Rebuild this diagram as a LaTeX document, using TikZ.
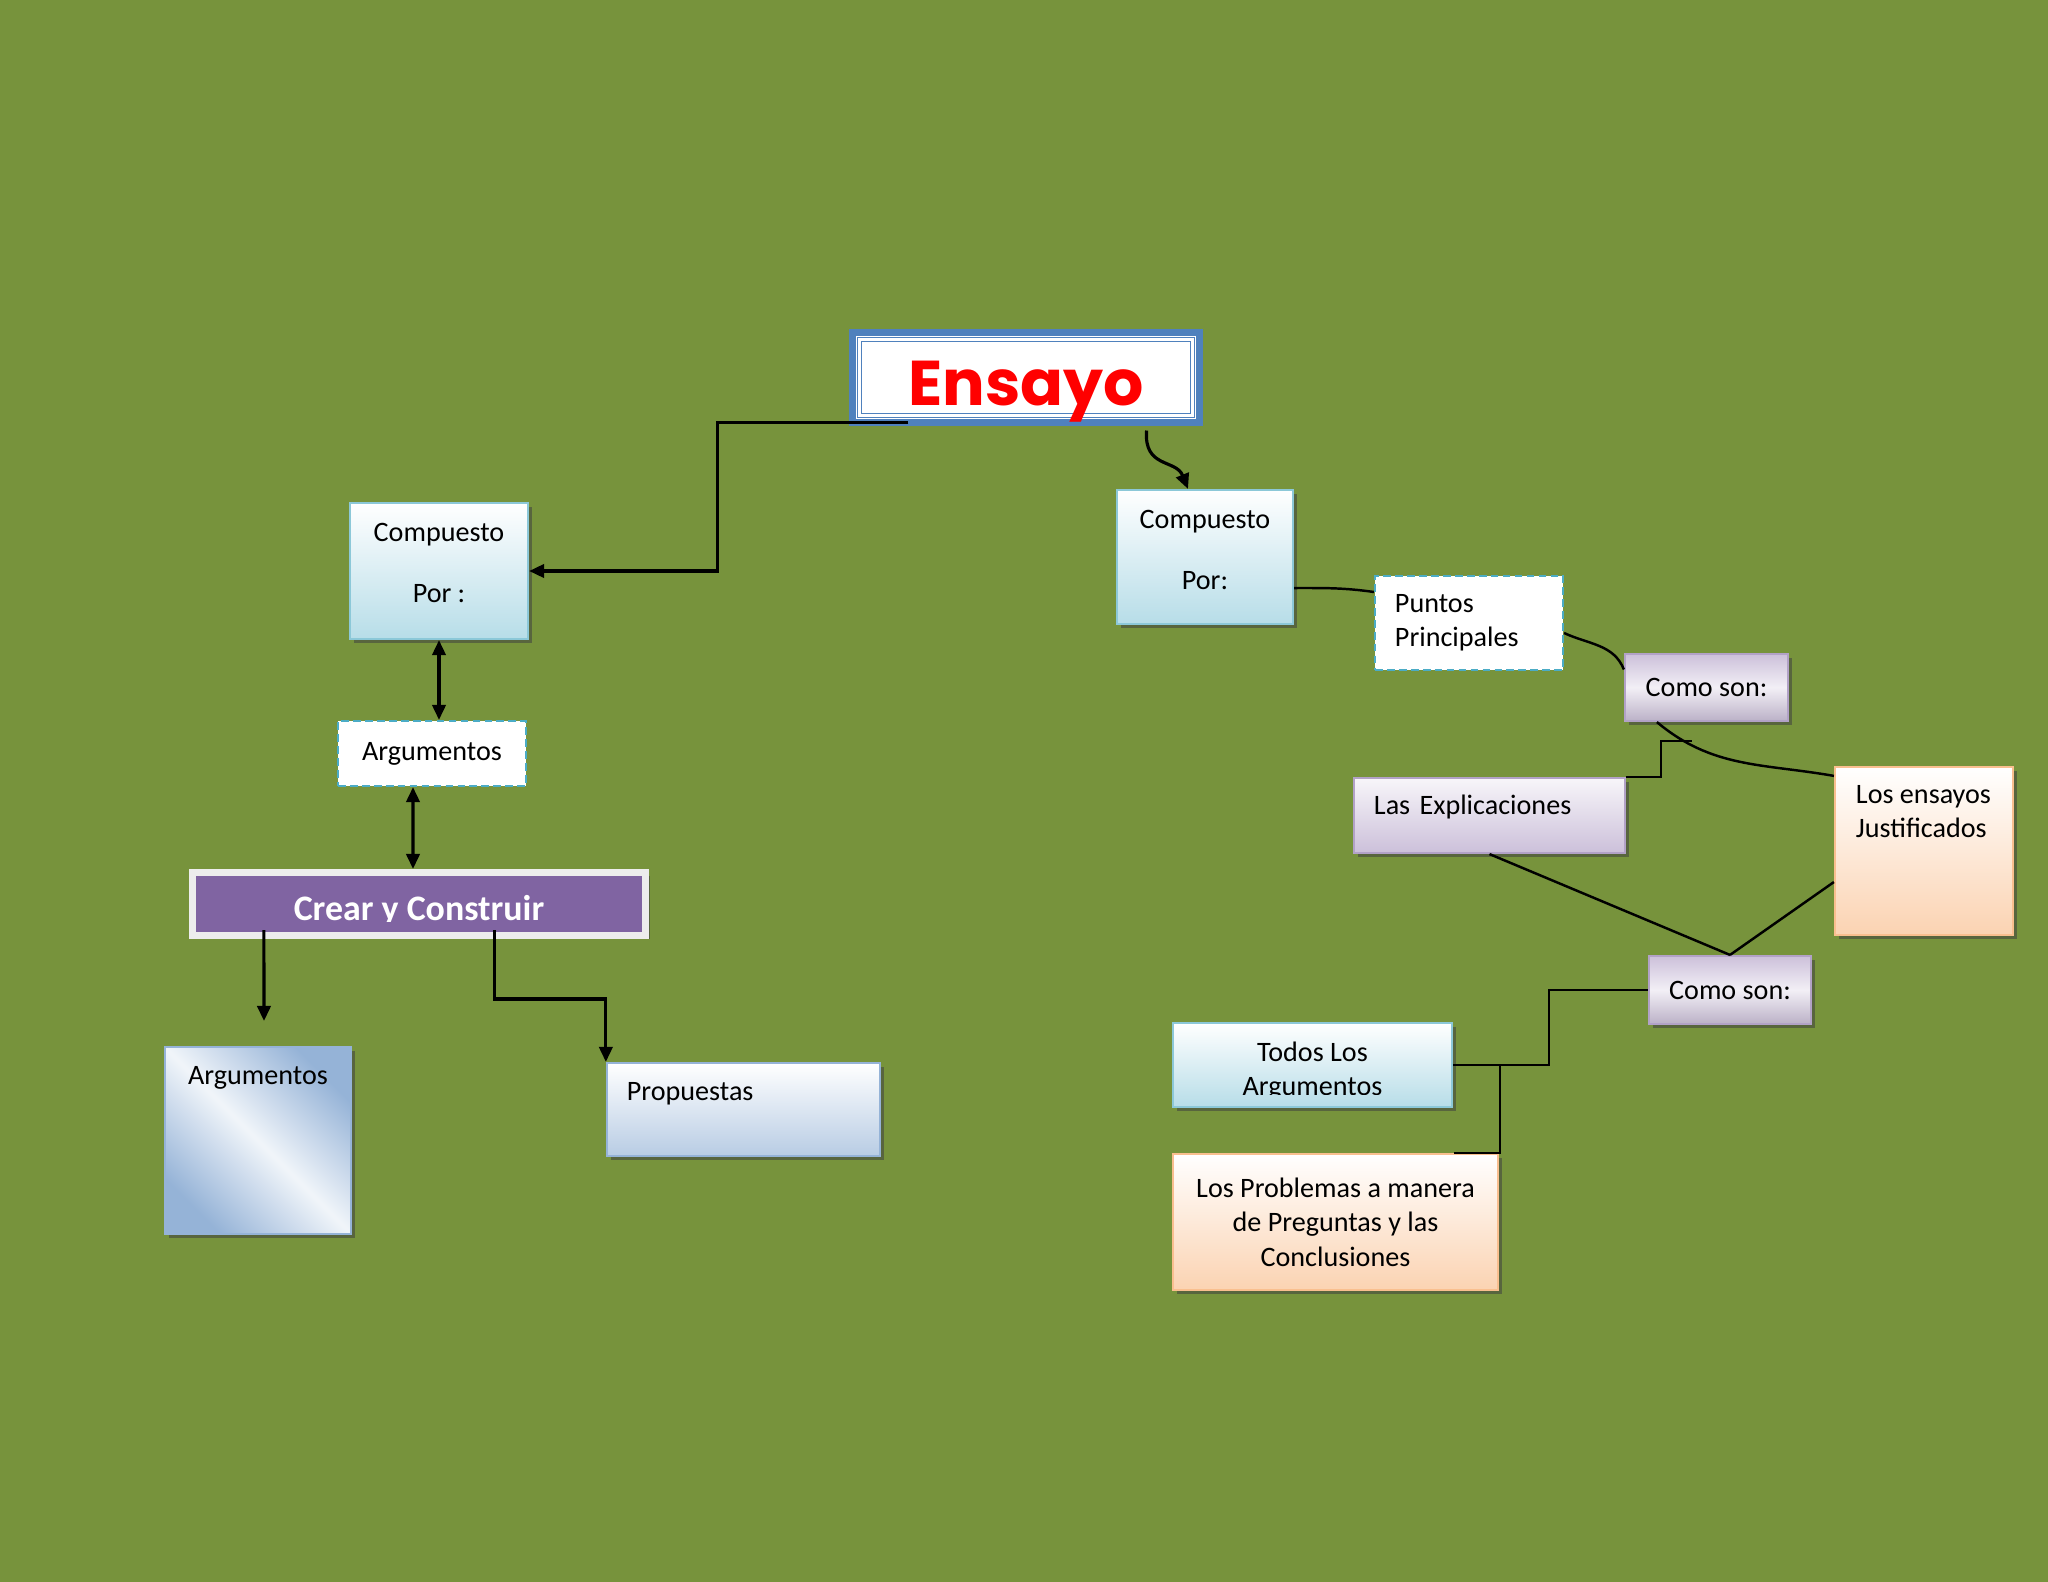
\documentclass[tikz,border=0pt]{standalone}
\usepackage{fontspec}
\setmainfont{Carlito}
\newfontfamily\titlefont{Poppins}
\usepackage{xcolor}
\usepackage{tikz}
\usetikzlibrary{positioning,arrows.meta,shadows}
\definecolor{fondo}{HTML}{77933C}
\definecolor{ensblue}{HTML}{4F81BD}
\definecolor{aqua}{HTML}{B7DDE8}
\definecolor{aqualine}{HTML}{8CC8D8}
\definecolor{dashline}{HTML}{4BACC6}
\definecolor{lila}{HTML}{CCC0DA}
\definecolor{lilaline}{HTML}{B2A2C7}
\definecolor{morado}{HTML}{8064A2}
\definecolor{melon}{HTML}{FBD3B2}
\definecolor{melonline}{HTML}{F9BF8F}
\definecolor{azul}{HTML}{B8CCE4}
\definecolor{azulos}{HTML}{95B3D7}

\begin{document}
\begin{tikzpicture}[x=0.01cm, y=-0.01cm,
  txt/.style={font=\fontsize{8}{9.8}\selectfont, text=black},
  box/.style={txt, draw, line width=0.6pt, align=center, drop shadow={shadow xshift=1.1pt, shadow yshift=-1.1pt, opacity=0.55, fill=black!75}},
  aquabox/.style={box, draw=aqualine, top color=white, bottom color=aqua},
  lilabox/.style={box, draw=lilaline, top color=lila, bottom color=lila!90!black!95, middle color=lila!25},
  lilagrad/.style={box, draw=lilaline, top color=lila!15, bottom color=lila},
  melonbox/.style={box, draw=melonline, top color=white, bottom color=melon},
  azulbox/.style={box, draw=azulos, top color=white, bottom color=azul},
  azuldiag/.style={box, draw=azulos, top color=azulos, bottom color=azulos, middle color=azul!20, shading angle=-45},
  dashbox/.style={txt, draw=dashline, dash pattern=on 2.2pt off 1.2pt, line width=0.6pt, fill=white, align=center},
  ensbox/.style={draw=ensblue, line width=0.07cm, fill=white, outer sep=0pt},
  crearbox/.style={draw=white!93!black, line width=0.07cm, fill=morado, drop shadow={shadow xshift=1.1pt, shadow yshift=-1.1pt, opacity=0.55, fill=black!75}},
  arrow/.style={-{Triangle[length=4.3pt,width=3.8pt]}, line width=0.9pt},
  darrow/.style={{Triangle[length=4.3pt,width=3.8pt]}-{Triangle[length=4.3pt,width=3.8pt]}, line width=0.9pt},
  link/.style={line width=0.7pt}
]
\fill[fondo] (0,0) rectangle (2048,1582);

\node[ensbox, minimum width=3.47cm, minimum height=0.90cm] (ensayo) at (1026,377.5) {};
\draw[ensblue, double=white, double distance=0.7pt, line width=0.45pt] ([shift={(7,7)}]ensayo.north west) rectangle ([shift={(-7,-7)}]ensayo.south east);
\node[font=\titlefont\bfseries\fontsize{18}{20}\selectfont, text=red, anchor=base] (ensayoT) at (1026,405) {Ensayo};

\node[aquabox, inner sep=0pt] (compL) at (439,571) {\parbox[t][1.36cm][t]{1.78cm}{\fontsize{8}{9.8}\selectfont\centering\vspace*{0.205cm}Compuesto\\[7.5pt]Por :}};
\node[dashbox, minimum width=1.88cm, minimum height=0.65cm] (argD) at (432,753.5) {Argumentos};
\node[crearbox, minimum width=4.53cm, minimum height=0.63cm] (crear) at (419,904) {};
\begin{scope}
\clip ([shift={(7,7)}]crear.north west) rectangle ([shift={(-7,-18)}]crear.south east);
\node[font=\bfseries\fontsize{10.2}{12}\selectfont, text=white, anchor=base] (crearT) at (419,920) {Crear y Construir};
\end{scope}
\node[azuldiag, minimum width=1.86cm, inner ysep=0pt, text height=0.38cm, text depth=1.49cm] (argB) at (258,1140.5) {Argumentos};
\node[azulbox, text width=2.33cm, align=left, inner xsep=0.2cm, inner ysep=0pt, text height=0.37cm, text depth=0.56cm] (prop) at (743.5,1109.5) {Propuestas};

\node[aquabox, inner sep=0pt] (compR) at (1205,557) {\parbox[t][1.34cm][t]{1.76cm}{\fontsize{8}{9.8}\selectfont\centering\vspace*{0.20cm}Compuesto\\[7.5pt]Por:}};
\node[dashbox, text width=1.48cm, align=left, inner xsep=0.2cm, minimum height=0.94cm] (puntos) at (1469,623) {Puntos\\Principales};
\node[lilabox, minimum width=1.63cm, minimum height=0.67cm] (como1) at (1706.5,687.5) {Como son:};
\node[lilagrad, text width=2.31cm, align=left, inner xsep=0.2cm, inner ysep=0pt, text height=0.36cm, text depth=0.39cm] (expl) at (1489.5,815.5) {Las Explicaciones};
\node[melonbox, inner sep=0pt] (ensJ) at (1924,851) {\parbox[t][1.68cm][t]{1.78cm}{\fontsize{8}{9.8}\selectfont\vspace*{0.18cm}\leftskip=0.21cm\relax Los ensayos\\Justificados}};
\node[lilabox, minimum width=1.62cm, minimum height=0.68cm] (como2) at (1730,990) {Como son:};
\node[aquabox, minimum width=2.79cm, minimum height=0.84cm] (todos) at (1312.5,1065) {};
\begin{scope}
\clip ([shift={(2,2)}]todos.north west) rectangle ([shift={(-2,-14)}]todos.south east);
\node[txt, align=center, anchor=north, inner sep=0pt] (todosT) at (1312.5,1041) {Todos Los\\Argumentos};
\end{scope}
\node[melonbox, minimum width=3.25cm, minimum height=1.36cm] (probl) at (1335.5,1222) {Los Problemas a manera\\de Preguntas y las\\Conclusiones};

\draw[arrow] ([xshift=0.56cm]ensayo.south west) -- ++(-191,0) |- (compL.east);
\draw[darrow] (compL.south) -- (compL.south |- argD.north);
\draw[darrow] ([xshift=-0.19cm]argD.south) -- ([xshift=-0.06cm]crear.north);
\coordinate (argtip) at (264,1021);
\draw[arrow] ([shift={(75,-9)}]crear.south west) -- (argtip);
\draw[arrow] ([shift={(306,-9)}]crear.south west) -- ++(0,69) -| (prop.north west);

\draw[arrow] ([shift={(-53,8)}]ensayo.south east) .. controls +(-3,38) and +(-12,-30) .. ([xshift=-0.17cm]compR.north);
\draw[link] ([yshift=-0.31cm]compR.east) to[out=0,in=172] ([yshift=0.31cm]puntos.west);
\draw[link] ([yshift=-0.10cm]puntos.east) to[out=-25,in=112] ([yshift=0.18cm]como1.west);
\draw[link] ([xshift=0.33cm]como1.south west) to[out=-40,in=170] ([yshift=-0.10cm]ensJ.north west);
\coordinate (codo) at (1692,741);
\draw[link] (expl.north east) -- ++(35,0) |- (codo);
\draw[link] (expl.south) -- (como2.north);
\draw[link] ([yshift=-0.31cm]ensJ.west) -- (como2.north);
\draw[link] (como2.west) -- ++(-99,0) |- (todos.east);
\draw[link] ([xshift=-0.45cm]probl.north east) -| ([xshift=0.47cm]todos.east);
\end{tikzpicture}
\end{document}
